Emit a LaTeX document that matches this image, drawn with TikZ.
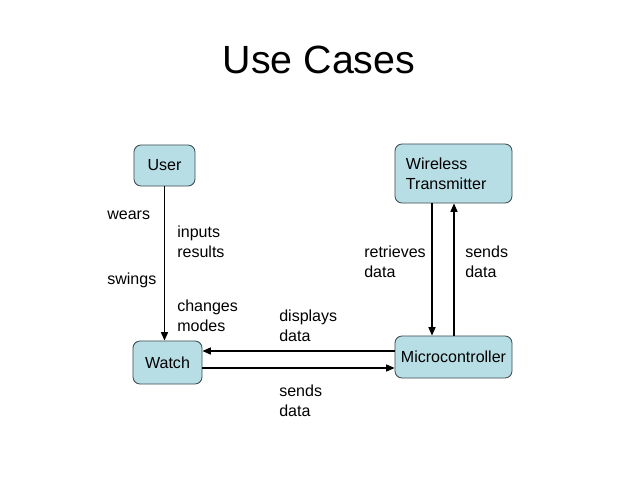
\documentclass[tikz,border=0pt]{standalone}
\usepackage{fontspec}
\setmainfont{Liberation Sans}
\usetikzlibrary{positioning,arrows.meta}
\definecolor{boxfill}{RGB}{184,222,229}
\definecolor{boxline}{RGB}{60,75,80}

\begin{document}
\begin{tikzpicture}[
    x=0.025cm, y=-0.025cm,
    block/.style={rectangle, draw=boxline, fill=boxfill, rounded corners=5pt, line width=0.6pt, inner sep=0pt, font=\fontsize{11.4}{14.2}\selectfont},
    note/.style={anchor=west, align=left, inner sep=0pt, font=\fontsize{11.4}{14.2}\selectfont},
    link/.style={-{Triangle[length=6pt,width=5pt]}, line width=1pt},
]
\useasboundingbox (0,0) rectangle (640,480);

\node[font=\fontsize{28}{32}\selectfont] (title) at (319,60) {Use Cases};

% boxes
\node[block, minimum width=1.525cm, minimum height=1.025cm] (user) at (164.5,165.5) {User};
\node[block, minimum width=2.925cm, minimum height=1.475cm, text width=2.375cm, align=left] (wt) at (453.5,173.5) {Wireless\\Transmitter};
\node[block, minimum width=1.725cm, minimum height=1.075cm] (watch) at (167.5,362.5) {Watch};
\node[block, minimum width=2.925cm, minimum height=1.05cm] (mc) at (453.5,357) {Microcontroller};

% connectors
\draw[link] (user) -- (user |- watch.north);
\draw[link] (wt.south -| 432,0) -- (mc.north -| 432,0);
\draw[link] (mc.north -| 454,0) -- (wt.south -| 454,0);
\draw[link] (mc.west |- 0,351) -- (watch.east |- 0,351);
\draw[link] (watch.east |- 0,368) -- (mc.west |- 0,368);

% labels
\node[note] (wears) at (107,215) {wears};
\node[note] (swings) at (107,280) {swings};
\node[note] (inputs) at (177,242) {inputs\\results};
\node[note] (modes) at (177,316) {changes\\modes};
\node[note] (retr) at (364,262) {retrieves\\data};
\node[note] (sendup) at (465,262) {sends\\data};
\node[note] (disp) at (279,326) {displays\\data};
\node[note] (sendright) at (279,401) {sends\\data};

\end{tikzpicture}
\end{document}
